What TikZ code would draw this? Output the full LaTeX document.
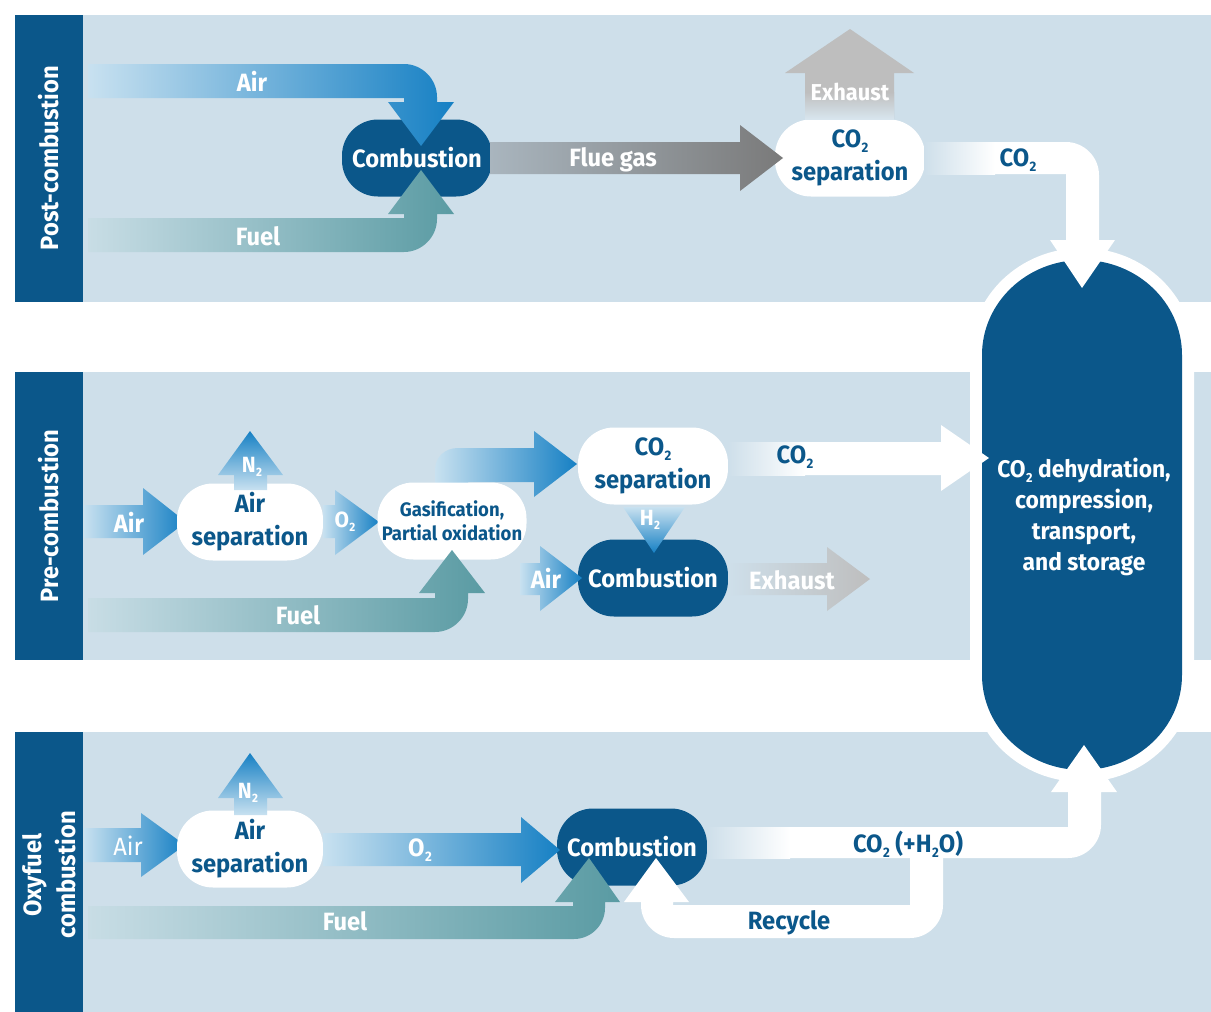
\documentclass[tikz,border=0pt]{standalone}
\usepackage{fontspec}
\setmainfont{Fira Sans}[FakeStretch=0.95]
\definecolor{band}{HTML}{CEDFEA}
\definecolor{cdark}{HTML}{0B578A}
\definecolor{airD}{HTML}{1680C4}
\definecolor{airL}{HTML}{C8E1F0}
\definecolor{fuelD}{HTML}{5A9BA3}
\definecolor{fuelL}{HTML}{C8DDE5}
\definecolor{flueL}{HTML}{A9B5BE}
\definecolor{flueD}{HTML}{7A7A7A}
\definecolor{exG}{HTML}{BEBEBE}
\newcommand\subtwo{\kern0.02em\raisebox{-0.35ex}{\scalebox{0.55}{2}}}
\begin{document}
\begin{tikzpicture}[x=1pt,y=-1pt,
  proc/.style={rectangle, rounded corners=36pt, minimum width=150pt, minimum height=77pt, inner sep=0pt, align=center, font=\bfseries\fontsize{25}{33}\selectfont},
  darkproc/.style={proc, fill=cdark, text=white},
  lightproc/.style={proc, fill=white, text=cdark},
  lbl/.style={font=\bfseries\fontsize{25}{30}\selectfont, text=white, inner sep=0pt, align=center},
  dlbl/.style={lbl, text=cdark},
  sml/.style={font=\bfseries\fontsize{22}{26}\selectfont, text=white, inner sep=0pt},
  airarrow/.style={left color=airL, right color=airD},
  fuelarrow/.style={left color=fuelL, right color=fuelD}]
\useasboundingbox (0,0) rectangle (1211,1012);
\fill[white] (0,0) rectangle (1211,1012);
% bands
\fill[band] (15,15) rectangle (1211,302);
\fill[band] (15,372) rectangle (1211,660);
\fill[band] (15,732) rectangle (1211,1012);
\fill[cdark] (15,15) rectangle (83,302);
\fill[cdark] (15,372) rectangle (83,660);
\fill[cdark] (15,732) rectangle (83,1012);
\node[lbl, rotate=90] (lpost) at (49,158) {Post-combustion};
\node[lbl, rotate=90] (lpre) at (49,516) {Pre-combustion};
\node[lbl, rotate=90, font=\bfseries\fontsize{25}{34}\selectfont] (loxy) at (49,875) {Oxyfuel\\combustion};
% vessel
\def\vesselpath{(982,355) .. controls (982,302.6) and (1026.8,260) .. (1082,260) .. controls (1137.2,260) and (1182,302.6) .. (1182,355) -- (1182,675) .. controls (1182,727.4) and (1137.2,770) .. (1082,770) .. controls (1026.8,770) and (982,727.4) .. (982,675) -- cycle}
\draw[white, line width=24pt] \vesselpath;
\fill[cdark] \vesselpath;
\node[lbl, font=\bfseries\fontsize{24}{31}\selectfont] (vessel) at (1084,517) {CO\subtwo{} dehydration,\\compression,\\transport,\\and storage};

% ---------- Post-combustion ----------
\node[darkproc] (comb1) at (417,158) {Combustion};
\shade[airarrow] (88,64) -- (404,64) .. controls (422,64) and (437,79) .. (437,97) -- (437,102) -- (454,102) -- (421,146) -- (388,102) -- (404,102) -- (404,98) -- (88,98) -- cycle;
\node[lbl] (air1) at (252,81) {Air};
\shade[fuelarrow] (88,218) -- (404,218) -- (404,214) -- (388,214) -- (421,170) -- (454,214) -- (437,214) -- (437,219) .. controls (437,237) and (422,252) .. (404,252) -- (88,252) -- cycle;
\node[lbl] (fuel1) at (258,236) {Fuel};
\node[lightproc] (sep1) at (850,158) {CO\subtwo\\separation};
\shade[left color=flueL, right color=flueD] (490,142) -- (740,142) -- (740,125) -- (783,158) -- (740,191) -- (740,174) -- (490,174) -- cycle;
\node[lbl] (flue) at (613,160) {Flue gas};
\fill[exG] (805,119) -- (805,73) -- (785,73) -- (850,29) -- (914,73) -- (894,73) -- (894,119) -- cycle;
\shade[top color=exG, bottom color=band!80!white] (805,92) rectangle (894,119);
\node[lbl, font=\bfseries\fontsize{23}{28}\selectfont] (exh1) at (850,92) {Exhaust};
\fill[white] (924,142) -- (1066,142) .. controls (1084,142) and (1099,157) .. (1099,175) -- (1099,240) -- (1115,240) -- (1082,288) -- (1050,240) -- (1066,240) -- (1066,174) -- (924,174) -- cycle;
\shade[left color=band, right color=white] (924,142) rectangle (995,174);
\node[dlbl] (co2a) at (1018,160) {CO\subtwo};

% ---------- Pre-combustion ----------
\shade[airarrow] (435,495) -- (435,470) .. controls (435,457) and (445,448) .. (458,448) -- (534,448) -- (534,431) -- (577,464) -- (534,497) -- (534,482) -- (468,482) -- (468,495) -- cycle;
\shade[airarrow] (84,505) -- (143,505) -- (143,488) -- (186,522) -- (143,555) -- (143,538) -- (84,538) -- cycle;
\node[lbl] (air2) at (129,522) {Air};
\node[lightproc, minimum width=146pt] (asep2) at (250,522) {Air\\separation};
\shade[top color=airD, bottom color=airL] (234,490) -- (234,475) -- (218,475) -- (250,431) -- (283,475) -- (267,475) -- (267,490) -- cycle;
\node[sml] (n2a) at (252,467) {N\subtwo};
\shade[airarrow] (323,505) -- (335,505) -- (335,490) -- (379,522) -- (335,555) -- (335,538) -- (323,538) -- cycle;
\node[sml] (o2a) at (345,522) {O\subtwo};
\node[lightproc, minimum width=149pt, font=\bfseries\fontsize{19.5}{24}\selectfont] (gas) at (452,521) {Gasification,\\Partial oxidation};
\shade[fuelarrow] (88,598) -- (435,598) -- (435,593) -- (419,593) -- (452,550) -- (485,593) -- (468,593) -- (468,599) .. controls (468,617) and (453,632) .. (435,632) -- (88,632) -- cycle;
\node[lbl] (fuel2) at (298,615) {Fuel};
\node[lightproc] (sep2) at (653,466) {CO\subtwo\\separation};
\fill[white] (728,442) -- (941,442) -- (941,425) -- (989,458) -- (941,491) -- (941,475) -- (728,475) -- cycle;
\shade[left color=band, right color=white] (728,442) rectangle (805,475);
\node[dlbl] (co2b) at (795,457) {CO\subtwo};
\node[darkproc] (comb2) at (653,578) {Combustion};
\shade[top color=airL, bottom color=airD] (623,507) -- (685,507) -- (654,553) -- cycle;
\node[sml] (h2) at (650,520) {H\subtwo};
\shade[airarrow] (520,563) -- (540,563) -- (540,546) -- (582,578) -- (540,611) -- (540,595) -- (520,595) -- cycle;
\node[lbl] (air3) at (546,578) {Air};
\shade[left color=band, right color=exG] (728,563) -- (827,563) -- (827,547) -- (870,579) -- (827,611) -- (827,595) -- (728,595) -- cycle;
\node[lbl] (exh2) at (792,580) {Exhaust};

% ---------- Oxyfuel ----------
\shade[airarrow] (84,828) -- (141,828) -- (141,813) -- (185,845) -- (141,877) -- (141,862) -- (84,862) -- cycle;
\node[lbl, font=\mdseries\fontsize{25}{30}\selectfont] (air4) at (128,846) {Air};
\node[lightproc, minimum width=146pt] (asep3) at (250,849) {Air\\separation};
\shade[top color=airD, bottom color=airL] (234,815) -- (234,798) -- (218,798) -- (250,753) -- (283,798) -- (267,798) -- (267,815) -- cycle;
\node[sml] (n2b) at (248,793) {N\subtwo};
\node[darkproc] (comb3) at (632,847) {Combustion};
\shade[airarrow] (323,833) -- (521,833) -- (521,817) -- (560,850) -- (521,883) -- (521,866) -- (323,866) -- cycle;
\node[lbl] (o2b) at (420,850) {O\subtwo};
\shade[fuelarrow] (88,906) -- (573,906) -- (573,902) -- (555,902) -- (589,858) -- (620,902) -- (605,902) -- (605,908) .. controls (605,925) and (591,939) .. (574,939) -- (88,939) -- cycle;
\node[lbl] (fuel3) at (345,921) {Fuel};
\fill[white] (910,850) -- (943,850) -- (943,905) .. controls (943,923) and (928,938) .. (910,938) -- (674,938) .. controls (656,938) and (641,923) .. (641,905) -- (641,902) -- (624,902) -- (656,858) -- (689,902) -- (673,902) -- (673,905) -- (910,905) -- cycle;
\node[dlbl] (recyc) at (789,923) {Recycle};
\fill[white] (707,827) -- (1068,827) -- (1068,792) -- (1051,792) -- (1084,745) -- (1117,792) -- (1101,792) -- (1101,825) .. controls (1101,843) and (1086,858) .. (1068,858) -- (707,858) -- cycle;
\shade[left color=band, right color=white] (707,827) rectangle (790,858);
\node[dlbl] (co2c) at (908,844) {CO\subtwo{} (+H\subtwo O)};
\end{tikzpicture}
\end{document}
